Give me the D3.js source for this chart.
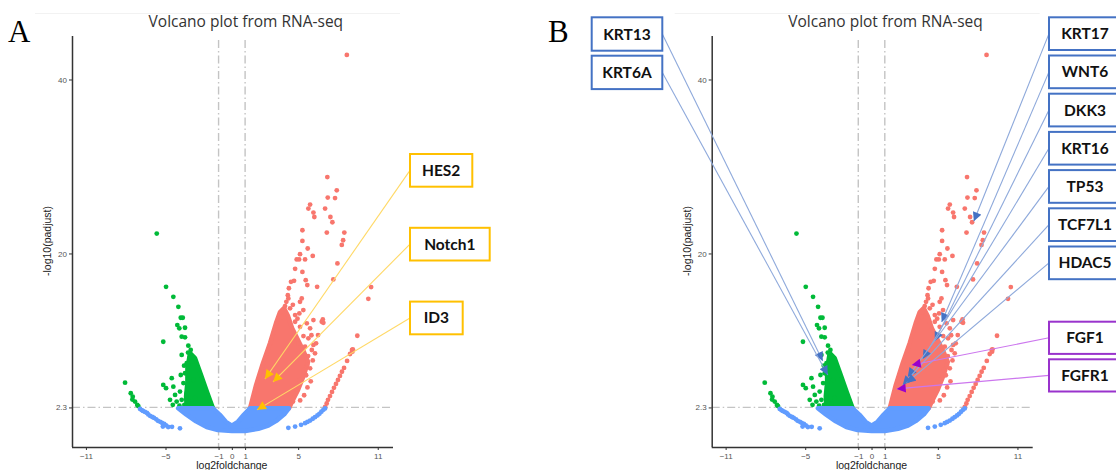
<!DOCTYPE html>
<html>
<head>
<meta charset="utf-8">
<script src="https://cdn.jsdelivr.net/npm/d3@7"></script>
<style>
  html, body { margin: 0; padding: 0; background: #fff; }
  svg { display: block; }
</style>
</head>
<body>
<svg id="chart" width="1116" height="470"></svg>
<script>
// ticks
const xTicks = [-11, -5, -1, 0, 1, 5, 11];
const yTicks = [2.3, 20, 40];
const cutoffFC = [-1, 1];
const cutoffP = 2.3;

// up-regulated genes, scattered points [log2fc, -log10 padj]
const upPoints = [
  [8.67, 42.82], [7.2, 28.78], [7.91, 27.26], [7.23, 26.42], [7.78, 26.37],
  [5.9, 25.62], [5.77, 25.16], [6.15, 24.7], [6.22, 24.19], [7.03, 25.16],
  [7.43, 24.19], [7.58, 23.59], [5.32, 22.67], [7.16, 22.4], [8.48, 22.4],
  [5.32, 21.44], [8.39, 21.52], [8.29, 20.98], [5.72, 20.57], [5.14, 19.92],
  [6.1, 19.72], [4.89, 19.31], [5.07, 19.31], [5.52, 19.31], [7.96, 18.85],
  [4.77, 18.23], [5.32, 17.88], [7.65, 17.01], [4.46, 16.74], [4.69, 16.85],
  [5.57, 16.93], [5.69, 16.36], [6.43, 16.16], [10.5, 16.13], [10.29, 14.79],
  [4.22, 15.21], [4.26, 14.83], [4.11, 14.44], [5.27, 14.83], [5.14, 14.44],
  [4.01, 13.95], [5.39, 13.49], [4.39, 13.69], [3.76, 12.72], [4.77, 12.92],
  [5.09, 13.11], [6.15, 12.34], [6.86, 12.42], [6.78, 12.15], [9.46, 10.54],
  [9.12, 8.98], [9.09, 8.71], [5.9, 11.39], [5.65, 11.97], [5.14, 11.57],
  [4.77, 12.15], [5.77, 10.24], [5.52, 9.28], [5.02, 9.67], [5.27, 8.52],
  [6.15, 9.48], [6.27, 8.52], [6.9, 12.03], [4.6, 14.1], [4.95, 12.5],
  [5.6, 6.0], [5.9, 6.8], [5.95, 5.3], [5.7, 4.6], [5.45, 3.7], [5.15, 3.1],
  [6.1, 7.7], [5.75, 8.2], [6.0, 10.6], [5.4, 10.5], [4.3, 16.0],
  // middle arc
  [4.61, 2.97], [4.92, 4.31], [5.14, 5.46], [5.44, 6.61], [5.69, 7.18],
  [6.03, 8.9], [6.35, 9.67], [6.5, 10.62],
  // outer arc
  [7.03, 2.36], [7.15, 2.75], [7.25, 3.17], [7.4, 3.6], [7.55, 4.08], [7.7, 4.55],
  [7.85, 5.0], [8.0, 5.45], [8.15, 5.92], [8.3, 6.4], [8.46, 6.84], [8.69, 7.64],
  [8.91, 8.44], [9.06, 8.9]
];
// dense cloud of up-regulated genes (outline)
const upCloud = [
  [1.37, 2.2], [1.83, 4.89], [2.35, 7.41], [2.88, 9.71], [3.33, 12.0],
  [3.63, 13.26], [3.93, 13.72], [4.24, 12.8], [4.54, 11.43], [4.99, 10.05],
  [5.44, 8.67], [5.75, 7.53], [5.44, 6.04], [4.99, 4.31], [4.54, 2.94], [4.31, 2.2]
];

// down-regulated genes
const downPoints = [
  [-5.66, 22.29], [-4.96, 16.16], [-4.41, 15.02], [-4.03, 13.87], [-3.85, 12.61],
  [-3.7, 12.61], [-4.11, 11.77], [-3.53, 11.46], [-3.96, 11.39], [-3.78, 10.43],
  [-3.53, 10.36], [-5.17, 9.85], [-3.28, 9.4], [-3.1, 8.9], [-3.78, 8.33],
  [-3.15, 8.13], [-3.02, 7.56], [-3.4, 7.38], [-3.53, 6.23], [-3.85, 6.03],
  [-4.53, 5.66], [-5.17, 4.89], [-4.96, 4.51], [-4.41, 4.69], [-3.91, 4.12],
  [-3.4, 3.93], [-4.28, 3.74], [-3.78, 3.17], [-3.28, 2.97], [-4.66, 3.17],
  [-4.16, 2.97], [-3.02, 2.71], [-3.58, 2.59], [-2.78, 3.36], [-8.05, 5.15],
  [-7.62, 3.93], [-7.47, 3.54], [-7.3, 2.97], [-7.13, 2.59], [-2.9, 5.46],
  [-3.65, 5.1], [-3.95, 2.5], [-4.45, 2.6], [-3.6, 7.1], [-3.3, 8.6],
  [-7.5, 3.2], [-7.05, 2.45]
];
const downCloud = [
  [-3.15, 8.56], [-2.78, 7.98], [-2.32, 6.03], [-1.87, 4.08], [-1.42, 2.2],
  [-3.4, 2.2], [-3.45, 3.6], [-3.35, 5.2], [-3.35, 6.8]
];

// not significant
const nsPoints = [
  [-6.92, 2.13], [-6.8, 2.0], [-6.7, 1.9], [-6.55, 1.78], [-6.4, 1.67], [-6.3, 1.5],
  [-6.17, 1.33], [-6.0, 1.2], [-5.87, 1.1], [-5.7, 0.93], [-5.57, 0.76], [-5.4, 0.64],
  [-5.27, 0.53], [-5.1, 0.4], [-4.96, 0.24], [-4.51, 0.07], [-3.91, -0.1],
  [-5.2, 0.1], [-4.8, 0.05],
  [4.26, -0.05], [4.77, 0.1], [5.22, 0.3], [5.52, 0.49], [5.7, 0.63], [5.9, 0.79],
  [6.1, 1.0], [6.27, 1.18], [6.45, 1.38], [6.6, 1.56], [6.75, 1.8], [6.9, 2.02], [7.03, 2.19]
];
const nsCloud = [
  [-4.05, 2.2], [-1.42, 2.2], [-0.9, 1.45], [-0.45, 0.65], [0.0, 0.2],
  [0.45, 0.65], [0.9, 1.45], [1.37, 2.2], [4.3, 2.2], [3.95, 1.5],
  [3.35, 0.75], [2.75, 0.2], [2.0, -0.15], [1.0, -0.4], [0.0, -0.4],
  [-1.05, -0.3], [-1.9, 0.05], [-2.7, 0.7], [-3.45, 1.5]
];

// annotated genes
const genesA = ['HES2', 'Notch1', 'ID3'];
const genesAValues = [[2.5, 5.57], [3.11, 5.23], [1.9, 2.02]];
const genesBLeft = ['KRT13', 'KRT6A'];
const genesBLeftValues = [[-3.68, 7.63], [-3.3, 6.03]];
const genesBRight = ['KRT17', 'WNT6', 'DKK3', 'KRT16', 'TP53', 'TCF7L1', 'HDAC5'];
const genesBRightValues = [[7.71, 23.7], [5.29, 12.11], [4.77, 9.93], [3.86, 7.87],
  [2.73, 5.8], [2.35, 4.89], [2.65, 5.12]];
const genesBFgf = ['FGF1', 'FGFR1'];
const genesBFgfValues = [[3.03, 7.18], [1.9, 4.43]];

const colUp = '#F8766D', colDown = '#00BA38', colNs = '#619CFF';
const svg = d3.select('#chart');

const defs = svg.append('defs');
const addMarker = (id, color) => {
  defs.append('marker')
    .attr('id', id)
    .attr('viewBox', '0 0 10 10')
    .attr('refX', 10).attr('refY', 5)
    .attr('markerWidth', 10).attr('markerHeight', 9)
    .attr('markerUnits', 'userSpaceOnUse')
    .attr('orient', 'auto')
    .append('path')
    .attr('d', 'M0,0L10,5L0,10Z')
    .attr('fill', color);
};
addMarker('arrOrange', '#FFC000');
addMarker('arrBlue', '#4472C4');
addMarker('arrPurple', '#9900CC');

const y = d3.scaleLinear().domain([-2.25, 45]).range([447, 36]);

const drawPanel = (x0, letter, letterX) => {
  const x = d3.scaleLinear().domain([-12.05, 12.15]).range([x0, x0 + 321]);
  const g = svg.append('g');

  g.append('line')
    .attr('x1', x0 - 37).attr('x2', x0 + 328)
    .attr('y1', 13.5).attr('y2', 13.5)
    .attr('stroke', '#f2f2f2');

  g.append('text')
    .attr('x', letterX).attr('y', 42)
    .attr('font-family', 'Liberation Serif, serif')
    .attr('font-size', 31)
    .attr('fill', '#000')
    .text(letter);

  g.append('text')
    .attr('x', x(0) + 14).attr('y', 27)
    .attr('text-anchor', 'middle')
    .attr('font-family', 'Open Sans, sans-serif')
    .attr('font-size', 15.5)
    .attr('fill', '#333')
    .text('Volcano plot from RNA-seq');

  // cutoff lines
  g.selectAll('.vcut').data(cutoffFC).join('line')
    .attr('x1', d => x(d)).attr('x2', d => x(d))
    .attr('y1', 40).attr('y2', 447)
    .attr('stroke', '#c4c4c4').attr('stroke-width', 1.4)
    .attr('stroke-dasharray', '8,3,1.5,3');
  g.append('line')
    .attr('x1', x0).attr('x2', x0 + 321)
    .attr('y1', y(cutoffP)).attr('y2', y(cutoffP))
    .attr('stroke', '#c4c4c4').attr('stroke-width', 1.4)
    .attr('stroke-dasharray', '8,3,1.5,3');

  const area = d3.line().x(d => x(d[0])).y(d => y(d[1])).curve(d3.curveLinearClosed);
  const cloud = (pts, color) => g.append('path')
    .attr('d', area(pts))
    .attr('fill', color).attr('stroke', color)
    .attr('stroke-width', 4.5).attr('stroke-linejoin', 'round');
  const dots = (pts, color) => g.append('g').selectAll('circle').data(pts).join('circle')
    .attr('cx', d => x(d[0])).attr('cy', d => y(d[1])).attr('r', 2.4)
    .attr('fill', color);

  cloud(upCloud, colUp);
  dots(upPoints, colUp);
  cloud(downCloud, colDown);
  dots(downPoints, colDown);
  cloud(nsCloud, colNs);
  dots(nsPoints, colNs);

  // axes
  const xAxis = g.append('g').attr('transform', 'translate(0,447)')
    .call(d3.axisBottom(x).tickValues(xTicks).tickSize(3).tickPadding(3));
  const yAxis = g.append('g').attr('transform', `translate(${x0},0)`)
    .call(d3.axisLeft(y).tickValues(yTicks).tickFormat(d => String(d)).tickSize(3).tickPadding(2));
  [xAxis, yAxis].forEach(a => {
    a.select('.domain').attr('stroke', '#333').attr('stroke-width', 1.5);
    a.selectAll('.tick line').attr('stroke', '#333');
    a.selectAll('.tick text').attr('fill', '#555')
      .attr('font-family', 'Liberation Sans, Arial, sans-serif').attr('font-size', 8);
  });
  xAxis.select('.domain').attr('d', `M${x0},0.5H${x0 + 321}`);
  yAxis.select('.domain').attr('d', `M0.5,447V36`);

  g.append('text')
    .attr('x', x(0)).attr('y', 469)
    .attr('text-anchor', 'middle')
    .attr('font-family', 'Liberation Sans, Arial, sans-serif')
    .attr('font-size', 10.5).attr('fill', '#222')
    .text('log2foldchange');
  g.append('text')
    .attr('transform', `translate(${x0 - 21},241) rotate(-90)`)
    .attr('text-anchor', 'middle')
    .attr('font-family', 'Liberation Sans, Arial, sans-serif')
    .attr('font-size', 10.5).attr('fill', '#222')
    .text('-log10(padjust)');

  return x;
};

const labels = (names, values, x, boxX, boxY0, step, widths, h, side, border, lineCol, marker) => {
  const g = svg.append('g');
  names.forEach((name, i) => {
    const bx = boxX, by = boxY0 + i * step, w = widths[i];
    const sx = side === 'right' ? bx : bx + w;
    g.append('line')
      .attr('x1', sx).attr('y1', by + h / 2)
      .attr('x2', x(values[i][0])).attr('y2', y(values[i][1]))
      .attr('stroke', lineCol).attr('stroke-width', 1.1)
      .attr('marker-end', `url(#${marker})`);
  });
  names.forEach((name, i) => {
    const bx = boxX, by = boxY0 + i * step, w = widths[i];
    g.append('rect')
      .attr('x', bx).attr('y', by).attr('width', w).attr('height', h)
      .attr('fill', '#fff').attr('stroke', border).attr('stroke-width', 2);
    g.append('text')
      .attr('x', bx + w / 2).attr('y', by + h / 2 + 5.5)
      .attr('text-anchor', 'middle')
      .attr('font-family', 'Lato, sans-serif').attr('font-weight', 'bold')
      .attr('font-size', 15.5).attr('fill', '#111')
      .text(name);
  });
};

const xA = drawPanel(72, 'A', 8);
const xB = drawPanel(711.7, 'B', 548);

labels(genesA, genesAValues, xA, 410, 154, 73.8, [62.3, 79.7, 52.7], 32.7,
  'right', '#FFC000', '#FFD966', 'arrOrange');
labels(genesBLeft, genesBLeftValues, xB, 591.7, 17.3, 38.4, [70.6, 70.6], 33.4,
  'left', '#4472C4', '#8EA9DB', 'arrBlue');
labels(genesBRight, genesBRightValues, xB, 1049, 17.3, 38.2, d3.range(7).map(() => 72), 32.7,
  'right', '#4472C4', '#8EA9DB', 'arrBlue');
labels(genesBFgf, genesBFgfValues, xB, 1049, 321.7, 37.6, [72, 72], 32.2,
  'right', '#9933CC', '#CC77EE', 'arrPurple');
</script>
</body>
</html>
